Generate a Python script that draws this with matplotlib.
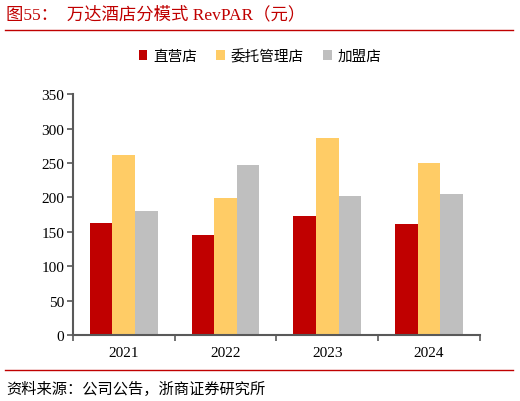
import numpy as np
import matplotlib
matplotlib.use("Agg")
import matplotlib.pyplot as plt
from matplotlib.patches import Patch
from matplotlib.lines import Line2D

plt.rcParams['font.family'] = ['Noto Sans CJK SC', 'DejaVu Sans']

years = ['2021', '2022', '2023', '2024']
series_names = ['直营店', '委托管理店', '加盟店']
direct = [163, 145, 173, 162]
managed = [261, 199, 286, 250]
franchise = [180, 247, 202, 205]
y_ticks = [0, 50, 100, 150, 200, 250, 300, 350]

colors = ['#C00000', '#FFCC66', '#BFBFBF']

fig = plt.figure(figsize=(5.2, 4.02), dpi=100)
ax = fig.add_axes([0.1398, 0.1642, 0.7832, 0.5988])

x = np.arange(len(years))
w = 0.222
for i, vals in enumerate([direct, managed, franchise]):
    ax.bar(x + (i - 1) * w, vals, w, color=colors[i], edgecolor='none',
           label=series_names[i], zorder=2)

ax.set_xlim(-0.5, len(years) - 0.5)
ax.set_ylim(0, 350)

num_font = dict(family='Liberation Serif', size=11, color='#000000')
ax.set_yticks(y_ticks)
ax.set_yticklabels([str(v) for v in y_ticks], **num_font)
ax.set_xticks(np.arange(len(years) + 1) - 0.5)
ax.set_xticklabels([])
ax.set_xticks(x, minor=True)
ax.set_xticklabels(years, minor=True, **num_font)
ax.tick_params(axis='x', which='major', direction='out', length=4, color='#595959', width=1.2)
ax.tick_params(axis='x', which='minor', length=0, pad=8)
ax.tick_params(axis='y', direction='out', length=4, color='#595959', width=1.2, pad=2)

for s in ['top', 'right']:
    ax.spines[s].set_visible(False)
for s in ['left', 'bottom']:
    ax.spines[s].set_color('#595959')
    ax.spines[s].set_linewidth(1.5)

# title and rules
fig.text(0.012, 0.962, '图55：  万达酒店分模式 RevPAR（元）', color='#C00000',
         fontsize=12.5, va='center', ha='left',
         family=['Liberation Serif', 'Noto Sans CJK SC'])
fig.add_artist(Line2D([0.01, 0.987], [0.923, 0.923], color='#C00000', lw=1))
fig.add_artist(Line2D([0.01, 0.987], [0.077, 0.077], color='#C00000', lw=1))
fig.text(0.012, 0.030, '资料来源：公司公告，浙商证券研究所', color='#000000',
         fontsize=11, va='center', ha='left')

handles = [Patch(facecolor=c, edgecolor='none') for c in colors]
fig.legend(handles, series_names, loc='center', bbox_to_anchor=(0.5, 0.858),
           ncol=3, frameon=False, fontsize=10.5, handlelength=0.6, handleheight=0.6,
           handletextpad=0.4, columnspacing=1.3)

fig.savefig('out.png', dpi=100)
